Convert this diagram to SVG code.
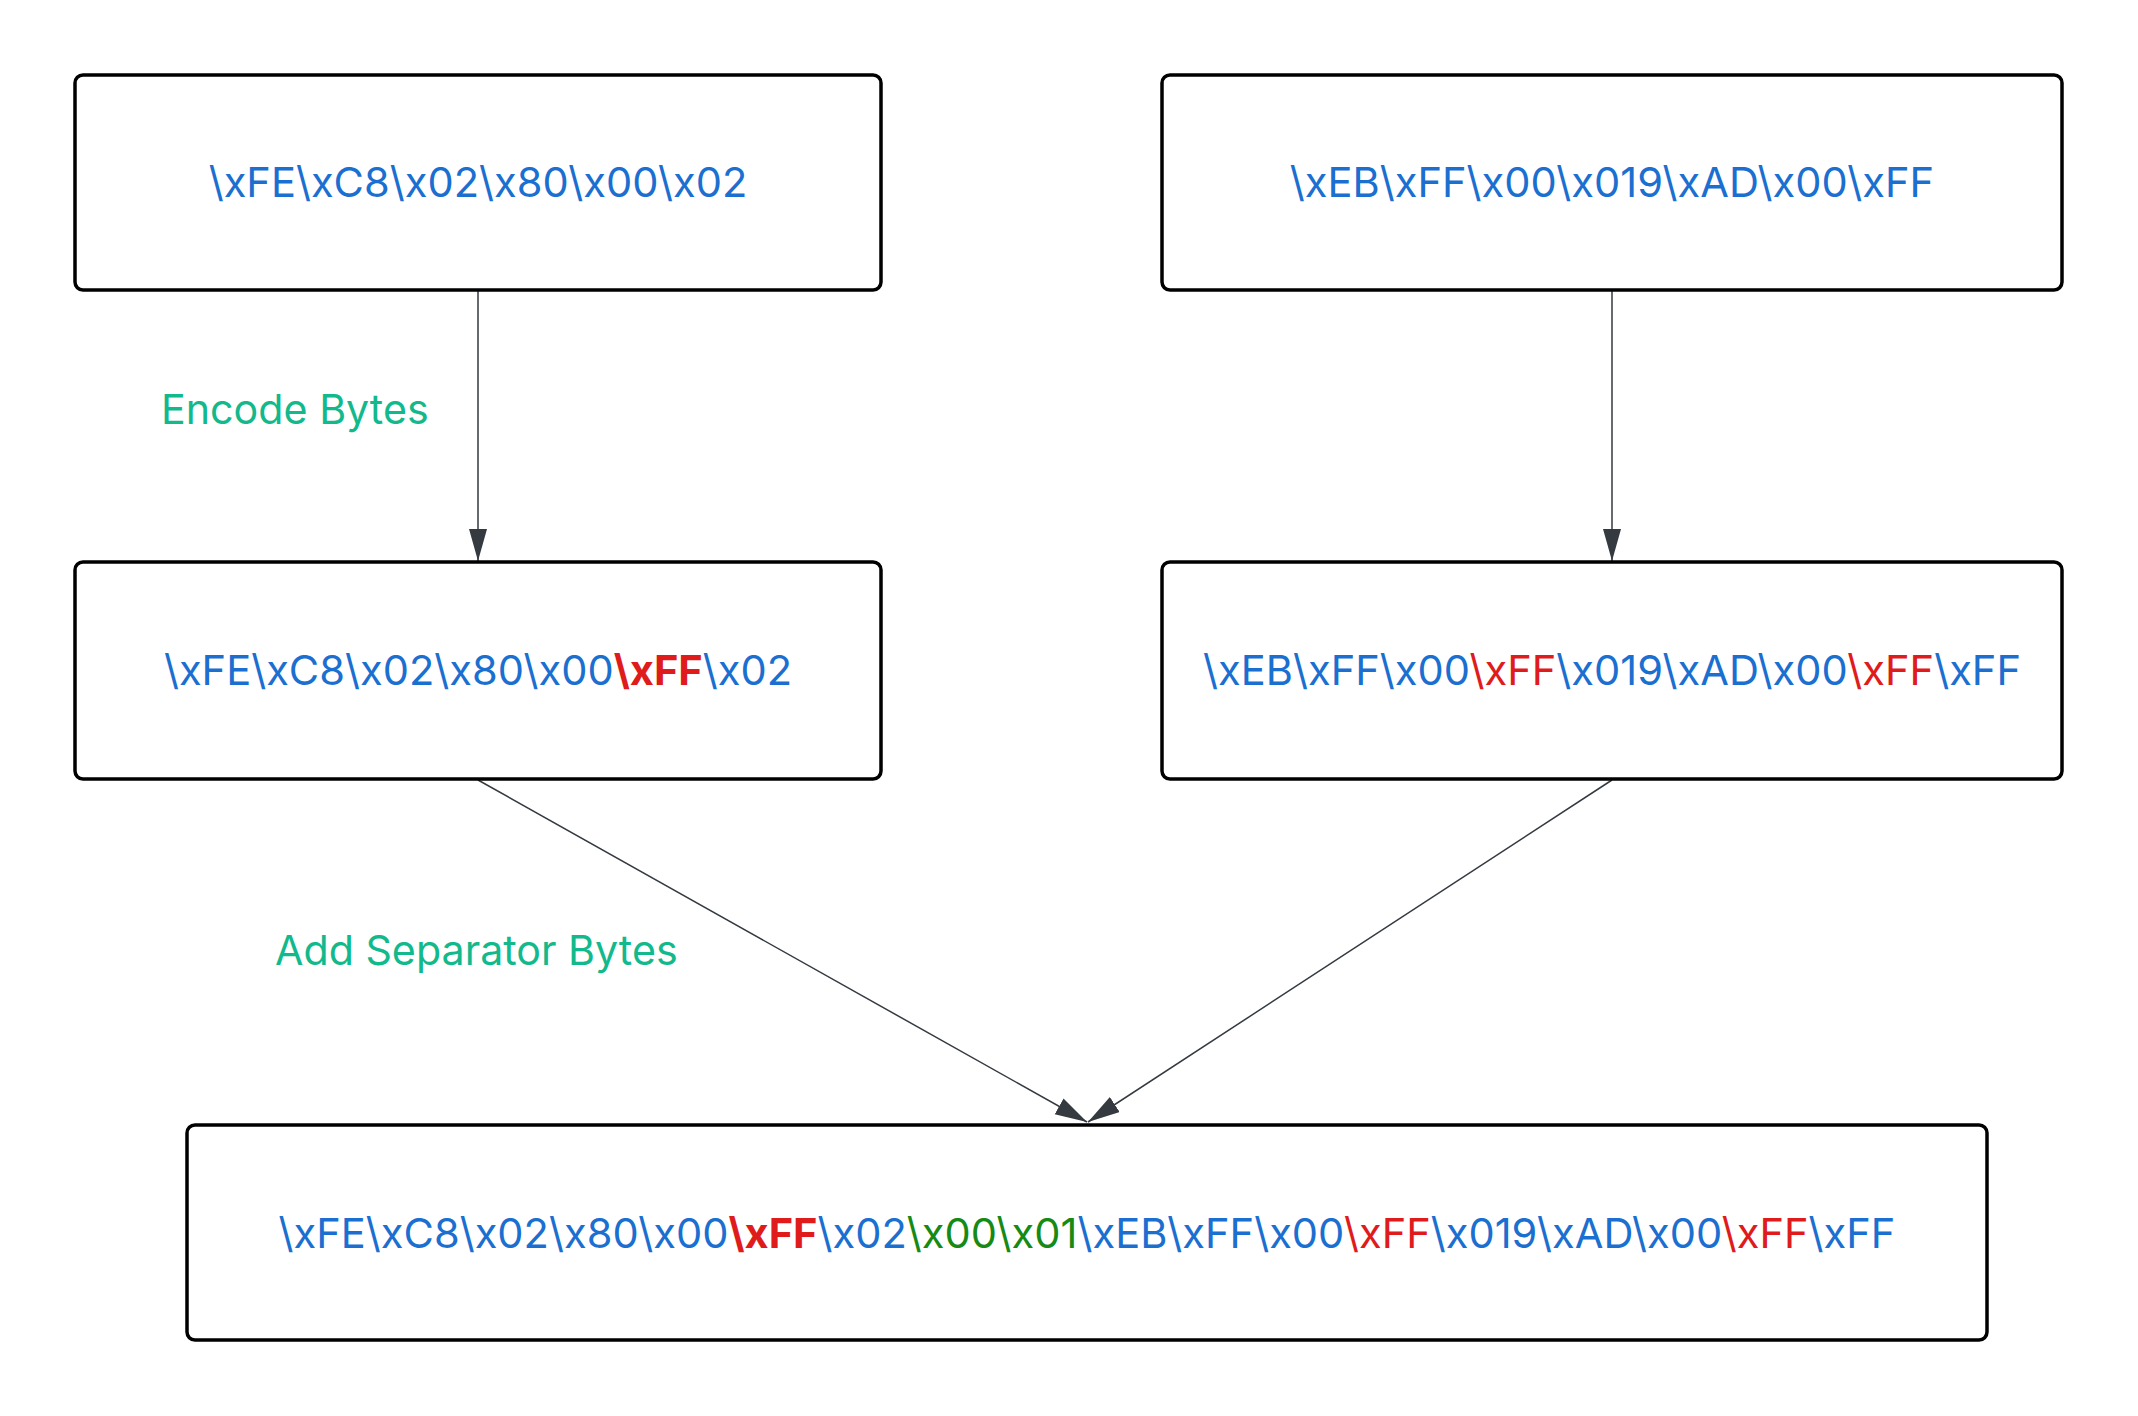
<svg xmlns="http://www.w3.org/2000/svg" width="2138" height="1416" viewBox="0 0 2138 1416">
<style>
.box{fill:#ffffff;stroke:#000000;stroke-width:3.5}
.t{font-family:Inter,"Liberation Sans",sans-serif;font-size:41.6px;text-anchor:middle;fill:#1b6fd0}
.r{fill:#e01b1b}
.b{font-weight:700}
.g{fill:#158a15}
.lbl{font-family:Inter,"Liberation Sans",sans-serif;font-size:41.2px;fill:#12b98c}
.c{stroke:#343a40;stroke-width:1.5;fill:none}
</style>
<defs>
<marker id="ah" markerUnits="userSpaceOnUse" markerWidth="34" markerHeight="20" refX="32" refY="9" orient="auto" viewBox="0 0 34 20">
<path d="M0,0 L32,9 L0,18 z" fill="#343a40"/>
</marker>
</defs>
<rect width="2138" height="1416" fill="#ffffff"/>
<g id="connectors">
<line class="c" x1="478" y1="291" x2="478" y2="561" marker-end="url(#ah)"/>
<line class="c" x1="1612" y1="291" x2="1612" y2="561" marker-end="url(#ah)"/>
<line class="c" x1="478" y1="780" x2="1087" y2="1122" marker-end="url(#ah)"/>
<line class="c" x1="1612" y1="780" x2="1088" y2="1122" marker-end="url(#ah)"/>
<text class="lbl" x="161" y="424">Encode Bytes</text>
<text class="lbl" x="275" y="965">Add Separator Bytes</text>
</g>
<g id="n1">
<rect class="box" x="75" y="75" width="806" height="215" rx="8"/>
<text class="t" x="478" y="197">\xFE\xC8\x02\x80\x00\x02</text>
</g>
<g id="n2">
<rect class="box" x="1162" y="75" width="900" height="215" rx="8"/>
<text class="t" x="1612" y="197">\xEB\xFF\x00\x019\xAD\x00\xFF</text>
</g>
<g id="n3">
<rect class="box" x="75" y="562" width="806" height="217" rx="8"/>
<text class="t" x="478" y="685">\xFE\xC8\x02\x80\x00<tspan class="r b">\xFF</tspan>\x02</text>
</g>
<g id="n4">
<rect class="box" x="1162" y="562" width="900" height="217" rx="8"/>
<text class="t" x="1612" y="685">\xEB\xFF\x00<tspan class="r">\xFF</tspan>\x019\xAD\x00<tspan class="r">\xFF</tspan>\xFF</text>
</g>
<g id="n5">
<rect class="box" x="187" y="1125" width="1800" height="215" rx="8"/>
<text class="t" x="1087" y="1248">\xFE\xC8\x02\x80\x00<tspan class="r b">\xFF</tspan>\x02<tspan class="g">\x00\x01</tspan>\xEB\xFF\x00<tspan class="r">\xFF</tspan>\x019\xAD\x00<tspan class="r">\xFF</tspan>\xFF</text>
</g>
</svg>
